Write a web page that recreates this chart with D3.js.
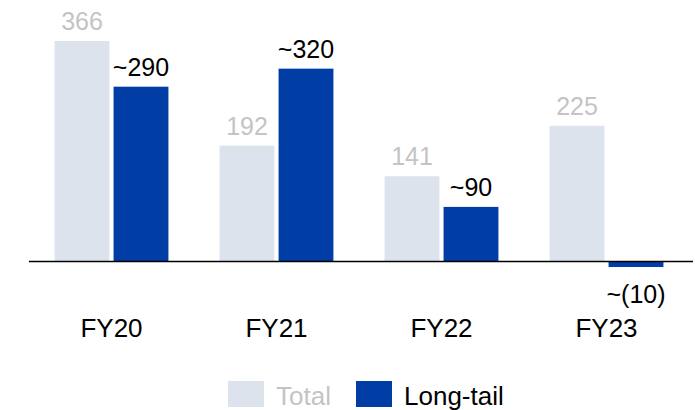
<!DOCTYPE html>
<html>
<head>
<meta charset="utf-8">
<title>Total vs Long-tail</title>
<style>
  body { margin: 0; background: #fff; }
  text { font-family: "Liberation Sans", Arial, sans-serif; }
</style>
</head>
<body>
<div id="chart"></div>
<script src="https://cdn.jsdelivr.net/npm/d3@7"></script>
<script>
var years = ["FY20", "FY21", "FY22", "FY23"];
var series = ["Total", "Long-tail"];
var totalValues = [366, 192, 141, 225];
var longTailValues = [290, 320, 90, -10];
var totalLabels = ["366", "192", "141", "225"];
var longTailLabels = ["~290", "~320", "~90", "~(10)"];

var colors = { "Total": "#dde3ed", "Long-tail": "#003da5" };
var labelColors = { "Total": "#c4c4c4", "Long-tail": "#000" };

var W = 695, H = 410;
var svg = d3.select("#chart").append("svg").attr("width", W).attr("height", H);

var x0 = d3.scaleBand().domain(years).range([29, 689]).paddingInner(0.31).paddingOuter(0.155);
var x1 = d3.scaleBand().domain(series).range([0, x0.bandwidth()]).paddingInner(0.07);
var y = d3.scaleLinear().domain([0, 366]).range([261, 41]);

var rows = [];
years.forEach(function (yr, i) {
  rows.push({ year: yr, s: "Total", v: totalValues[i], label: totalLabels[i] });
  rows.push({ year: yr, s: "Long-tail", v: longTailValues[i], label: longTailLabels[i] });
});

svg.selectAll("rect.bar").data(rows).enter().append("rect")
  .attr("class", "bar")
  .attr("x", function (d) { return x0(d.year) + x1(d.s); })
  .attr("width", x1.bandwidth())
  .attr("y", function (d) { return y(Math.max(0, d.v)); })
  .attr("height", function (d) { return Math.abs(y(d.v) - y(0)); })
  .attr("fill", function (d) { return colors[d.s]; });

svg.selectAll("text.val").data(rows).enter().append("text")
  .attr("class", "val")
  .attr("x", function (d) { return x0(d.year) + x1(d.s) + x1.bandwidth() / 2; })
  .attr("y", function (d) { return d.v >= 0 ? y(d.v) - 11 : y(d.v) + 36; })
  .attr("text-anchor", "middle")
  .style("font-size", "25px")
  .attr("fill", function (d) { return labelColors[d.s]; })
  .text(function (d) { return d.label; });

// baseline
svg.append("line")
  .attr("x1", 29).attr("x2", 693)
  .attr("y1", y(0) + 0.5).attr("y2", y(0) + 0.5)
  .attr("stroke", "#000").attr("stroke-width", 1.5);

var xAxis = svg.append("g").attr("transform", "translate(0," + 337 + ")")
  .call(d3.axisBottom(x0).tickSize(0));
xAxis.select(".domain").remove();
xAxis.selectAll("text").attr("y", 0).attr("dy", 0)
  .style("font-size", "26px").style("font-family", "'Liberation Sans', Arial, sans-serif")
  .attr("fill", "#000");

// legend
var legend = [
  { s: "Total", x: 228, tx: 276 },
  { s: "Long-tail", x: 356, tx: 404 }
];
var lg = svg.selectAll("g.leg").data(legend).enter().append("g").attr("class", "leg");
lg.append("rect")
  .attr("x", function (d) { return d.x; }).attr("y", 381)
  .attr("width", 36).attr("height", 26)
  .attr("fill", function (d) { return colors[d.s]; });
lg.append("text")
  .attr("x", function (d) { return d.tx; }).attr("y", 405)
  .style("font-size", "26px")
  .attr("fill", function (d) { return labelColors[d.s]; })
  .text(function (d) { return d.s; });
</script>
</body>
</html>
